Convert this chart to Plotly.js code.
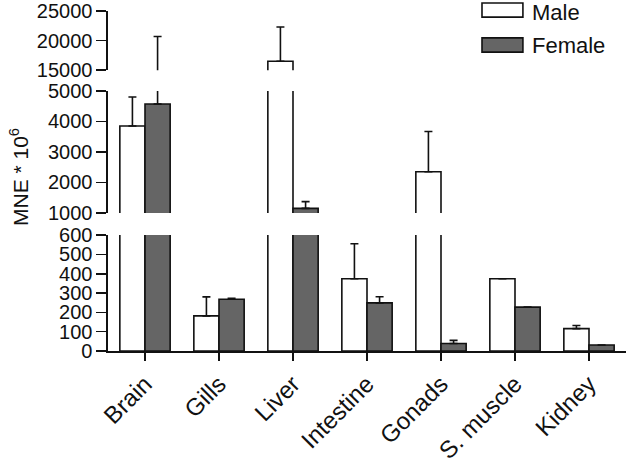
<!DOCTYPE html>
<html>
<head>
<meta charset="utf-8">
<script src="https://cdn.plot.ly/plotly-3.0.1.min.js"></script>
<style>html,body{margin:0;padding:0;background:#fff;}#chart{width:633px;height:462px;}</style>
</head>
<body>
<div id="chart"></div>
<script>
const categories = ["Brain", "Gills", "Liver", "Intestine", "Gonads", "S. muscle", "Kidney"];
const maleValues = [3850, 182, 16500, 374, 2350, 374, 116];
const maleErrors = [950, 98, 5800, 181, 1320, 0, 16];
const femaleValues = [4570, 268, 1150, 249, 39, 227, 31];
const femaleErrors = [16130, 5, 220, 32, 16, 0, 0];
const seriesNames = ["Male", "Female"];
const yTickValsBottom = [0, 100, 200, 300, 400, 500, 600];
const yTickValsMiddle = [1000, 2000, 3000, 4000, 5000];
const yTickValsTop = [15000, 20000, 25000];

const FONT = "Liberation Sans, Arial, sans-serif";
const LW = 1.6;
const axes = ["y", "y2", "y3"];
const traces = [];
axes.forEach((ya) => {
  traces.push({
    type: "bar", x: categories, y: maleValues, name: seriesNames[0], yaxis: ya, xaxis: "x",
    showlegend: false,
    marker: {color: "#ffffff", line: {color: "#111", width: LW}},
    error_y: {type: "data", symmetric: false, array: maleErrors, arrayminus: maleValues.map(() => 0),
      color: "#111", thickness: LW, width: 4}
  });
  traces.push({
    type: "bar", x: categories, y: femaleValues, name: seriesNames[1], yaxis: ya, xaxis: "x",
    showlegend: false,
    marker: {color: "#656565", line: {color: "#111", width: LW}},
    error_y: {type: "data", symmetric: false, array: femaleErrors, arrayminus: femaleValues.map(() => 0),
      color: "#111", thickness: LW, width: 4}
  });
});

function yAxis(domain, range, vals) {
  return {
    domain: domain, range: range, tickmode: "array", tickvals: vals, ticktext: vals.map(String),
    showline: true, linecolor: "#111", linewidth: LW, ticks: "outside", ticklen: 10,
    tickwidth: LW, tickcolor: "#111", showgrid: false, zeroline: false, anchor: "x",
    tickfont: {family: FONT, size: 20, color: "#111"}, fixedrange: true
  };
}

const layout = {
  width: 633, height: 462,
  margin: {l: 108, r: 7, t: 11, b: 111},
  paper_bgcolor: "#fff", plot_bgcolor: "rgba(0,0,0,0)",
  barmode: "group", bargap: 0.32, bargroupgap: 0,
  showlegend: false,
  font: {family: FONT, color: "#111", size: 20},
  xaxis: {
    anchor: "y", showline: true, linecolor: "#111", linewidth: LW, ticks: "outside",
    ticklen: 8, tickwidth: LW, tickcolor: "#111", tickangle: -45, range: [-0.5, 6.5],
    tickfont: {family: FONT, size: 24, color: "#111"}, showgrid: false, zeroline: false
  },
  yaxis: yAxis([0, 0.341], [0, 600], yTickValsBottom),
  yaxis2: yAxis([0.406, 0.765], [1000, 5000], yTickValsMiddle),
  yaxis3: yAxis([0.826, 1], [15000, 25000], yTickValsTop),
  shapes: [
    {type: "rect", xref: "paper", yref: "paper", x0: 0.722, x1: 0.801, y0: 0.982, y1: 1.0235,
      fillcolor: "#ffffff", line: {color: "#111", width: LW}},
    {type: "rect", xref: "paper", yref: "paper", x0: 0.722, x1: 0.801, y0: 0.879, y1: 0.921,
      fillcolor: "#656565", line: {color: "#111", width: LW}}
  ],
  annotations: [
    {xref: "paper", yref: "paper", x: 0.815, y: 0.997, xanchor: "left", yanchor: "middle",
      text: seriesNames[0], showarrow: false, font: {family: FONT, size: 22, color: "#111"}},
    {xref: "paper", yref: "paper", x: 0.815, y: 0.898, xanchor: "left", yanchor: "middle",
      text: seriesNames[1], showarrow: false, font: {family: FONT, size: 22, color: "#111"}},
    {xref: "paper", yref: "paper", x: (19 - 108) / 518, y: (351 - 177) / 340, xanchor: "center", yanchor: "middle",
      textangle: -90, text: "MNE * 10<sup>6</sup>", showarrow: false, font: {family: FONT, size: 21, color: "#111"}}
  ]
};

Plotly.newPlot("chart", traces, layout, {displayModeBar: false, staticPlot: true});
</script>
</body>
</html>
